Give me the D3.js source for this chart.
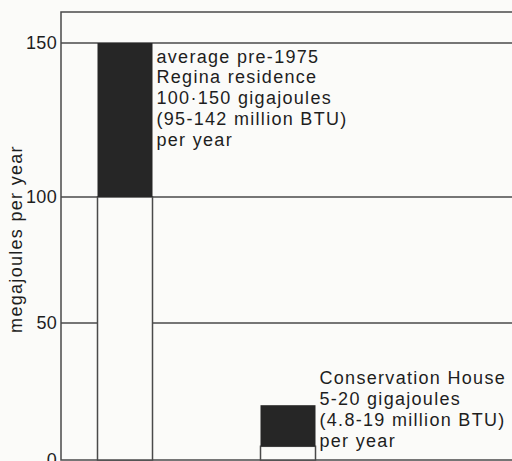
<!DOCTYPE html>
<html>
<head>
<meta charset="utf-8">
<script src="https://cdn.jsdelivr.net/npm/d3@7"></script>
<style>
  html, body { margin: 0; padding: 0; background: #fbfbf9; }
  svg { display: block; }
  text { font-family: "Liberation Sans", Arial, Helvetica, sans-serif; fill: #1e1e1e; }
</style>
</head>
<body>
<svg id="chart" width="512" height="461"></svg>
<script>
// ---- data ----
const categories = ["average pre-1975 Regina residence", "Conservation House"];
const rangeLow = [100, 5];     // megajoules per year (chart units)
const rangeHigh = [150, 20];
const annotations = [
  ["average pre-1975", "Regina residence", "100·150 gigajoules", "(95-142 million BTU)", "per year"],
  ["Conservation House", "5-20 gigajoules", "(4.8-19 million BTU)", "per year"]
];
const yTicks = [0, 50, 100, 150];
const yTickLabels = ["0", "50", "100", "150"];
const axisTitle = "megajoules per year";

// ---- layout ----
const W = 512, H = 461;
const frame = { left: 61, top: 12, right: 513, bottom: 460 };
const svg = d3.select("#chart");

// hand-drawn original axis is slightly uneven; follow its tick positions
const y = d3.scaleLinear()
  .domain([0, 50, 100, 150, 160])
  .range([460, 323, 197, 43, 12]);

const x = d3.scalePoint()
  .domain(categories)
  .range([125, 288]);
const barW = 55;

const lineColor = "#4a4a4a";
const darkColor = "#262626";

// frame
svg.append("rect")
  .attr("x", frame.left).attr("y", frame.top)
  .attr("width", frame.right - frame.left).attr("height", frame.bottom - frame.top)
  .attr("fill", "none").attr("stroke", lineColor).attr("stroke-width", 1.5);

// gridlines
svg.append("g").selectAll("line")
  .data(yTicks.filter(d => d > 0))
  .join("line")
  .attr("x1", frame.left).attr("x2", frame.right)
  .attr("y1", d => y(d)).attr("y2", d => y(d))
  .attr("stroke", lineColor).attr("stroke-width", 1.5);

// bars: white column from 0 to low, dark from low to high
const bars = svg.append("g").selectAll("g")
  .data(categories.map((c, i) => ({ c, lo: rangeLow[i], hi: rangeHigh[i], lines: annotations[i] })))
  .join("g");

bars.append("rect")
  .attr("x", d => x(d.c) - barW / 2)
  .attr("y", d => y(d.lo))
  .attr("width", barW)
  .attr("height", d => y(0) - y(d.lo))
  .attr("fill", "#fbfbf9")
  .attr("stroke", lineColor).attr("stroke-width", 1.5);

bars.append("rect")
  .attr("x", d => x(d.c) - barW / 2)
  .attr("y", d => y(d.hi))
  .attr("width", barW)
  .attr("height", d => y(d.lo) - y(d.hi))
  .attr("fill", darkColor);

// annotations to the right of each bar, top aligned with bar top
const lineH = 20.8;
bars.each(function(d) {
  const g = d3.select(this);
  const n = d.lines.length;
  // first set starts just below bar top; second set ends at bar bottom area
  const isFirst = d.c === categories[0];
  const x0 = x(d.c) + barW / 2 + 4;
  const firstBase = isFirst ? y(d.hi) + 19.5 : y(d.lo) - (n - 1) * lineH + 0.5;
  g.selectAll("text.ann")
    .data(d.lines)
    .join("text")
    .attr("class", "ann")
    .attr("x", x0)
    .attr("y", (t, i) => firstBase + i * lineH)
    .attr("font-size", 18)
    .attr("letter-spacing", 1.3)
    .text(t => t);
});

// y tick labels
svg.append("g").selectAll("text")
  .data(yTicks)
  .join("text")
  .attr("x", 57)
  .attr("y", d => y(d))
  .attr("dy", "0.35em")
  .attr("text-anchor", "end")
  .attr("font-size", 18)
  .attr("letter-spacing", 0.3)
  .text((d, i) => yTickLabels[i]);

// axis title
svg.append("text")
  .attr("transform", "translate(22,239) rotate(-90)")
  .attr("text-anchor", "middle")
  .attr("font-size", 18)
  .attr("letter-spacing", 1.3)
  .text(axisTitle);
</script>
</body>
</html>
